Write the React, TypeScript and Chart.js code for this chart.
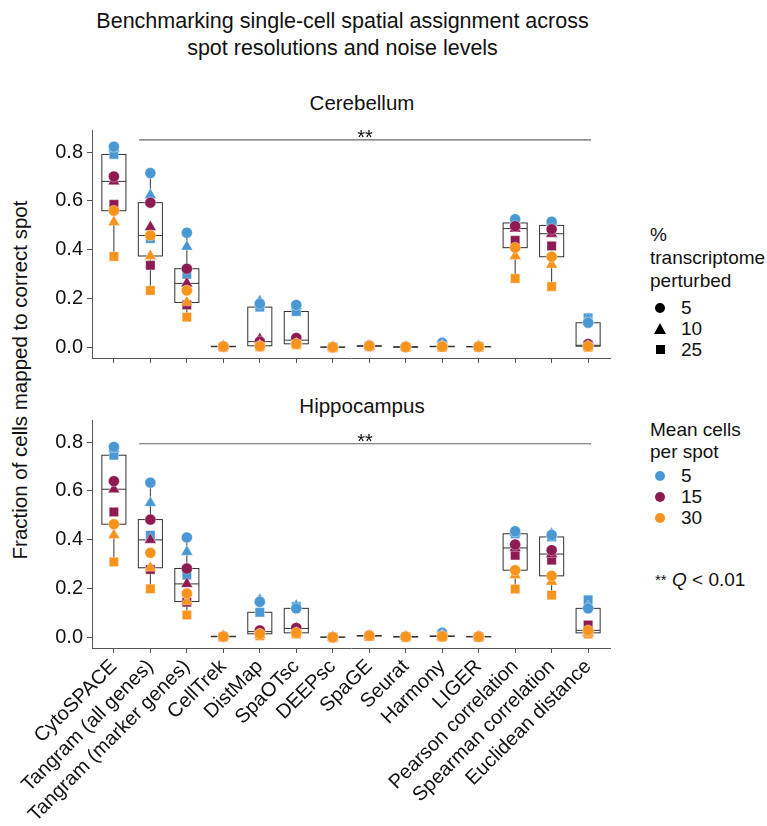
import React, { useEffect, useRef } from 'react';
import { Chart, registerables } from 'chart.js';

Chart.register(...registerables);

const FONT = "'Liberation Sans', Arial, Helvetica, sans-serif";

const methods = [
  'CytoSPACE', 'Tangram (all genes)', 'Tangram (marker genes)', 'CellTrek', 'DistMap', 'SpaOTsc',
  'DEEPsc', 'SpaGE', 'Seurat', 'Harmony', 'LIGER', 'Pearson correlation', 'Spearman correlation', 'Euclidean distance',
];
const yTicks = [0, 0.2, 0.4, 0.6, 0.8];
const noiseLevels = ['5', '10', '25'];
const cellLevels = ['5', '15', '30'];
const cellColors = ['#4A98D3', '#8E1A52', '#F7941D'];
const noiseShapes = ['circle', 'triangle', 'rect'];

// Cerebellum: mean cells per spot (5, 15, 30) x % transcriptome perturbed (5, 10, 25)
const cerC5N5 = [0.822, 0.714, 0.47, 0.006, 0.18, 0.175, 0.003, 0.01, 0.004, 0.02, 0.006, 0.525, 0.515, 0.102];
const cerC5N10 = [0.815, 0.624, 0.413, 0.008, 0.19, 0.17, 0.004, 0.008, 0.003, 0.008, 0.005, 0.52, 0.51, 0.118];
const cerC5N25 = [0.79, 0.446, 0.30, 0.005, 0.166, 0.148, 0.002, 0.006, 0.002, 0.005, 0.004, 0.51, 0.50, 0.122];
const cerC15N5 = [0.70, 0.593, 0.323, 0.004, 0.025, 0.04, 0.002, 0.008, 0.004, 0.006, 0.004, 0.497, 0.484, 0.015];
const cerC15N10 = [0.68, 0.493, 0.263, 0.006, 0.035, 0.031, 0.003, 0.006, 0.003, 0.005, 0.005, 0.487, 0.466, 0.01];
const cerC15N25 = [0.586, 0.337, 0.175, 0.003, 0.02, 0.025, 0.001, 0.005, 0.002, 0.004, 0.003, 0.439, 0.416, 0.008];
const cerC30N5 = [0.56, 0.459, 0.234, 0.005, 0.006, 0.016, 0.002, 0.007, 0.003, 0.004, 0.004, 0.409, 0.372, 0.006];
const cerC30N10 = [0.514, 0.375, 0.185, 0.007, 0.008, 0.014, 0.002, 0.009, 0.004, 0.006, 0.006, 0.375, 0.34, 0.004];
const cerC30N25 = [0.373, 0.234, 0.125, 0.004, 0.004, 0.012, 0.001, 0.006, 0.002, 0.003, 0.003, 0.283, 0.25, 0.002];

// Hippocampus
const hipC5N5 = [0.78, 0.634, 0.41, 0.006, 0.147, 0.12, 0.002, 0.01, 0.005, 0.02, 0.005, 0.435, 0.42, 0.12];
const hipC5N10 = [0.773, 0.551, 0.351, 0.008, 0.155, 0.13, 0.003, 0.008, 0.004, 0.008, 0.006, 0.43, 0.425, 0.127];
const hipC5N25 = [0.746, 0.419, 0.256, 0.005, 0.104, 0.128, 0.002, 0.007, 0.003, 0.006, 0.004, 0.425, 0.412, 0.155];
const hipC15N5 = [0.64, 0.483, 0.283, 0.004, 0.03, 0.04, 0.002, 0.009, 0.004, 0.007, 0.005, 0.381, 0.358, 0.025];
const hipC15N10 = [0.607, 0.40, 0.22, 0.006, 0.025, 0.038, 0.003, 0.007, 0.005, 0.006, 0.004, 0.367, 0.342, 0.02];
const hipC15N25 = [0.514, 0.279, 0.145, 0.003, 0.02, 0.03, 0.001, 0.006, 0.003, 0.005, 0.003, 0.337, 0.317, 0.052];
const hipC30N5 = [0.464, 0.347, 0.181, 0.005, 0.016, 0.02, 0.002, 0.008, 0.004, 0.005, 0.004, 0.276, 0.253, 0.03];
const hipC30N10 = [0.419, 0.286, 0.148, 0.007, 0.012, 0.018, 0.003, 0.009, 0.005, 0.007, 0.006, 0.256, 0.229, 0.018];
const hipC30N25 = [0.31, 0.20, 0.093, 0.004, 0.008, 0.015, 0.001, 0.006, 0.003, 0.004, 0.003, 0.199, 0.174, 0.015];

const cerSeries = [
  [cerC5N5, cerC5N10, cerC5N25],
  [cerC15N5, cerC15N10, cerC15N25],
  [cerC30N5, cerC30N10, cerC30N25],
];
const hipSeries = [
  [hipC5N5, hipC5N10, hipC5N25],
  [hipC15N5, hipC15N10, hipC15N25],
  [hipC30N5, hipC30N10, hipC30N25],
];

const sigLabel = '**';
const cerSigY = 0.85;
const hipSigY = 0.793;
const sigFrom = 0.69;
const sigTo = 13.08;

function quantile(sorted: number[], p: number) {
  const h = (sorted.length - 1) * p;
  const lo = Math.floor(h);
  const hi = Math.ceil(h);
  return sorted[lo] + (sorted[hi] - sorted[lo]) * (h - lo);
}

const boxPlugin = {
  id: 'boxes',
  beforeDatasetsDraw(chart: any, _args: any, opts: any) {
    const { ctx, scales } = chart;
    const x = scales.x;
    const y = scales.y;
    const series: number[][][] = opts.series;
    ctx.save();
    ctx.strokeStyle = '#333';
    ctx.lineWidth = 1;
    methods.forEach((_m, i) => {
      const vals: number[] = [];
      series.forEach((bySh) => bySh.forEach((arr) => vals.push(arr[i])));
      const s = vals.sort((a, b) => a - b);
      const q1 = quantile(s, 0.25);
      const med = quantile(s, 0.5);
      const q3 = quantile(s, 0.75);
      const iqr = q3 - q1;
      const lo = Math.min(...s.filter((v) => v >= q1 - 1.5 * iqr));
      const hi = Math.max(...s.filter((v) => v <= q3 + 1.5 * iqr));
      const xl = x.getPixelForValue(i - 0.33);
      const xr = x.getPixelForValue(i + 0.33);
      const xc = x.getPixelForValue(i);
      const cl = x.getPixelForValue(i - 0.1);
      const cr = x.getPixelForValue(i + 0.1);
      ctx.beginPath();
      ctx.moveTo(xc, y.getPixelForValue(q3));
      ctx.lineTo(xc, y.getPixelForValue(hi));
      ctx.moveTo(cl, y.getPixelForValue(hi));
      ctx.lineTo(cr, y.getPixelForValue(hi));
      ctx.moveTo(xc, y.getPixelForValue(q1));
      ctx.lineTo(xc, y.getPixelForValue(lo));
      ctx.moveTo(cl, y.getPixelForValue(lo));
      ctx.lineTo(cr, y.getPixelForValue(lo));
      ctx.stroke();
      ctx.fillStyle = '#fff';
      const top = y.getPixelForValue(q3);
      const bot = y.getPixelForValue(q1);
      ctx.fillRect(xl, top, xr - xl, bot - top);
      ctx.strokeRect(xl, top, xr - xl, bot - top);
      ctx.beginPath();
      ctx.moveTo(xl, y.getPixelForValue(med));
      ctx.lineTo(xr, y.getPixelForValue(med));
      ctx.stroke();
    });
    ctx.restore();
  },
};

const sigPlugin = {
  id: 'sig',
  afterDraw(chart: any, _args: any, opts: any) {
    const { ctx, scales } = chart;
    const x = scales.x;
    const y = scales.y;
    const py = y.getPixelForValue(opts.y);
    const x0 = x.getPixelForValue(sigFrom);
    const x1 = x.getPixelForValue(sigTo);
    ctx.save();
    ctx.strokeStyle = '#666';
    ctx.lineWidth = 1.2;
    ctx.beginPath();
    ctx.moveTo(x0, py);
    ctx.lineTo(x1, py);
    ctx.stroke();
    ctx.fillStyle = '#111';
    ctx.font = `20px ${FONT}`;
    ctx.textAlign = 'center';
    ctx.textBaseline = 'alphabetic';
    ctx.fillText(sigLabel, (x0 + x1) / 2, py + 4);
    ctx.restore();
  },
};

function Panel({ series, sigY, showLabels, top, height }: any) {
  const ref = useRef<HTMLCanvasElement>(null);
  useEffect(() => {
    const datasets: any[] = [];
    // orange first so it is drawn on top
    for (let c = cellLevels.length - 1; c >= 0; c--) {
      for (let n = 0; n < noiseLevels.length; n++) {
        const shape = noiseShapes[n];
        datasets.push({
          label: `cells ${cellLevels[c]} / noise ${noiseLevels[n]}`,
          data: series[c][n].map((v: number, i: number) => ({ x: i, y: v })),
          pointStyle: shape,
          pointRadius: shape === 'circle' ? 5.5 : shape === 'triangle' ? 6.8 : 6.6,
          pointHoverRadius: 6,
          backgroundColor: cellColors[c],
          borderColor: 'rgba(255,255,255,0.6)',
          borderWidth: 0.6,
        });
      }
    }
    const axisColor = '#555';
    const chart = new Chart(ref.current as HTMLCanvasElement, {
      type: 'scatter',
      data: { datasets },
      plugins: [boxPlugin, sigPlugin],
      options: {
        animation: false,
        responsive: false,
        layout: { padding: { top: 10, right: 15, left: 0, bottom: 0 } },
        plugins: {
          legend: { display: false },
          tooltip: { enabled: false },
          boxes: { series },
          sig: { y: sigY },
        } as any,
        scales: {
          x: {
            type: 'linear',
            min: -0.6,
            max: 13.6,
            afterBuildTicks: (s: any) => {
              s.ticks = methods.map((_m, i) => ({ value: i }));
            },
            afterFit: (s: any) => {
              s.height = showLabels ? height - 238 : 12;
              s.paddingLeft = 0;
              s.paddingRight = 0;
              s.paddingTop = 0;
              s.paddingBottom = 0;
            },
            ticks: {
              display: showLabels,
              autoSkip: false,
              minRotation: 45,
              maxRotation: 45,
              padding: 2,
              color: '#111',
              font: { size: 20, family: FONT },
              callback: (v: any) => methods[Math.round(v)],
            },
            grid: { drawOnChartArea: false, drawTicks: true, tickLength: 5, color: axisColor, lineWidth: 1 },
            border: { display: true, color: axisColor, width: 1 },
          },
          y: {
            min: -0.042,
            max: 0.89,
            afterBuildTicks: (s: any) => {
              s.ticks = yTicks.map((v) => ({ value: v }));
            },
            afterFit: (s: any) => {
              s.width = 92;
              s.paddingTop = 0;
              s.paddingBottom = 0;
              s.paddingLeft = 0;
              s.paddingRight = 0;
            },
            ticks: {
              color: '#111',
              padding: 4,
              font: { size: 20, family: FONT },
              callback: (v: any) => Number(v).toFixed(1),
            },
            grid: { drawOnChartArea: false, drawTicks: true, tickLength: 5, color: axisColor, lineWidth: 1 },
            border: { display: true, color: axisColor, width: 1 },
          },
        },
      } as any,
    });
    return () => chart.destroy();
  }, []);
  return (
    <canvas
      ref={ref}
      width={625}
      height={height}
      style={{ position: 'absolute', left: 0, top, width: 625, height }}
    />
  );
}

const txt = (extra: any): any => ({
  position: 'absolute',
  fontFamily: FONT,
  color: '#111',
  whiteSpace: 'nowrap',
  ...extra,
});

function Line({ text, left, cy, size = 19 }: any) {
  return <div style={txt({ left, top: cy - 12, lineHeight: '24px', fontSize: size })}>{text}</div>;
}

function ShapeMark({ shape, cx, cy, color = '#000' }: any) {
  if (shape === 'circle') {
    return <div style={{ position: 'absolute', left: cx - 5, top: cy - 5, width: 10, height: 10, borderRadius: '50%', background: color }} />;
  }
  if (shape === 'triangle') {
    return (
      <div
        style={{
          position: 'absolute', left: cx - 6, top: cy - 6, width: 0, height: 0,
          borderLeft: '6px solid transparent', borderRight: '6px solid transparent', borderBottom: `11px solid ${color}`,
        }}
      />
    );
  }
  return <div style={{ position: 'absolute', left: cx - 4.5, top: cy - 4.5, width: 9, height: 9, background: color }} />;
}

export default function App() {
  const noiseY = [308, 328.5, 349.5];
  const cellY = [476, 497, 518];
  return (
    <div style={{ position: 'fixed', left: 0, top: 0, width: 767, height: 826, background: '#fff', overflow: 'hidden' }}>
      <div style={txt({ left: 0, width: 685, top: 8, textAlign: 'center', fontSize: 21.5, lineHeight: '27px' })}>
        Benchmarking single-cell spatial assignment across
        <br />
        spot resolutions and noise levels
      </div>
      <div style={txt({ left: 262, width: 200, top: 91, textAlign: 'center', fontSize: 20.5, lineHeight: '24px' })}>Cerebellum</div>
      <div style={txt({ left: 262, width: 200, top: 394, textAlign: 'center', fontSize: 20.5, lineHeight: '24px' })}>Hippocampus</div>
      <div style={txt({ left: 20, top: 380, fontSize: 20.5, lineHeight: '24px', transform: 'translate(-50%, -50%) rotate(-90deg)' })}>
        Fraction of cells mapped to correct spot
      </div>

      <Panel series={cerSeries} sigY={cerSigY} showLabels={false} top={120} height={250} />
      <Panel series={hipSeries} sigY={hipSigY} showLabels={true} top={410} height={416} />

      <Line text="%" left={650} cy={235} />
      <Line text="transcriptome" left={650} cy={258} />
      <Line text="perturbed" left={650} cy={281} />
      {noiseLevels.map((n, i) => (
        <React.Fragment key={n}>
          <ShapeMark shape={noiseShapes[i]} cx={660} cy={noiseY[i]} />
          <Line text={n} left={681} cy={noiseY[i]} />
        </React.Fragment>
      ))}

      <Line text="Mean cells" left={650} cy={430} />
      <Line text="per spot" left={650} cy={452} />
      {cellLevels.map((c, i) => (
        <React.Fragment key={c}>
          <ShapeMark shape="circle" cx={660} cy={cellY[i]} color={cellColors[i]} />
          <Line text={c} left={681} cy={cellY[i]} />
        </React.Fragment>
      ))}

      <div style={txt({ left: 655, top: 568, lineHeight: '24px', fontSize: 19 })}>
        <span style={{ fontSize: 15, verticalAlign: 'top' }}>**</span> <i>Q</i> &lt; 0.01
      </div>
    </div>
  );
}
